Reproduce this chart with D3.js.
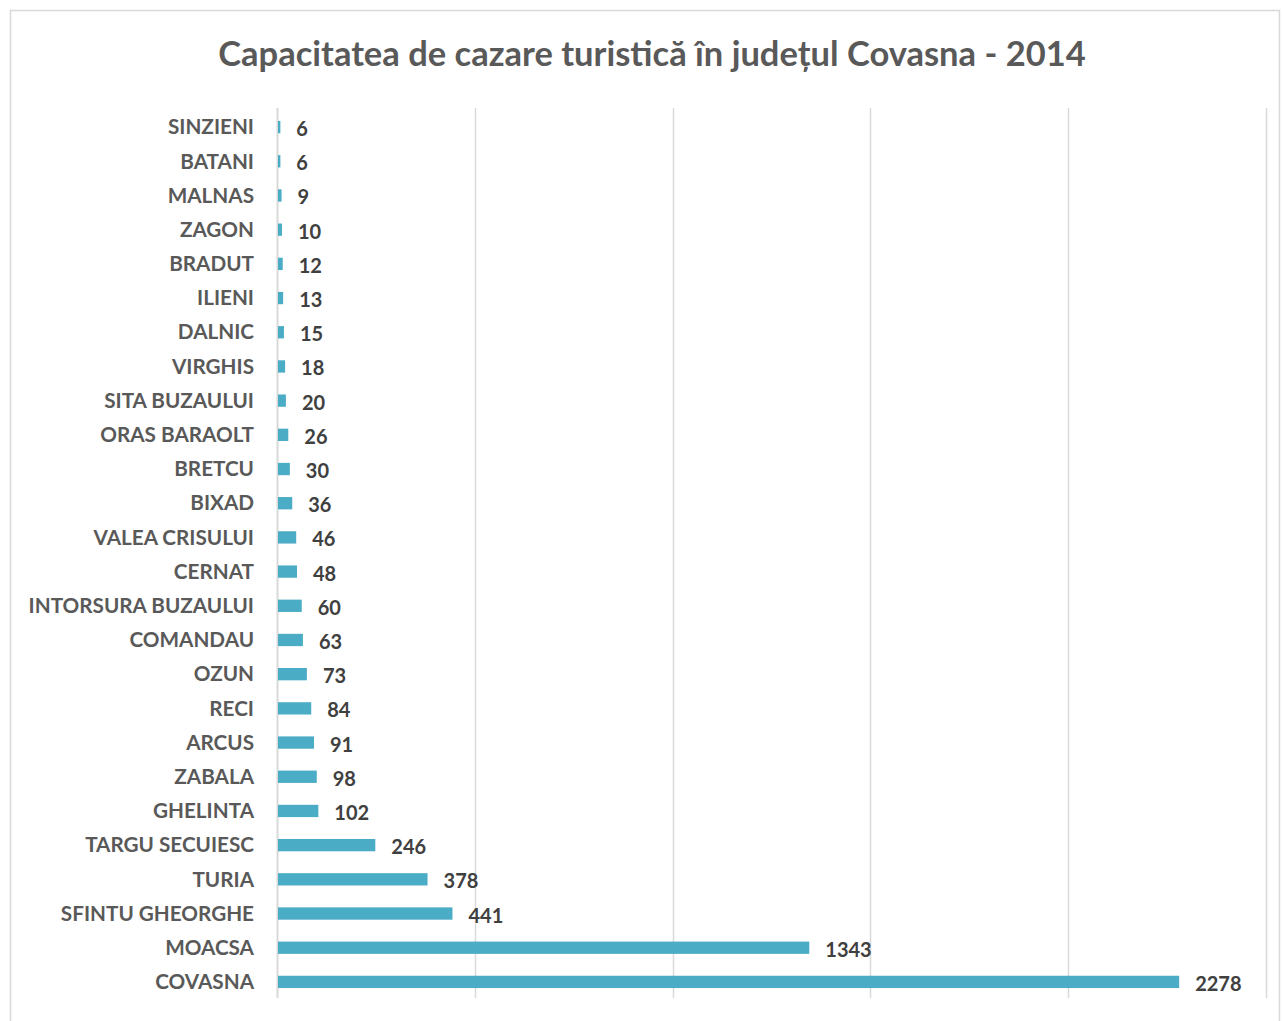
<!DOCTYPE html>
<html><head><meta charset="utf-8">
<script src="https://cdn.jsdelivr.net/npm/d3@7"></script>
<style>body{margin:0;background:#fff}svg{display:block}</style>
</head><body>
<svg id="c" width="1283" height="1021"></svg>
<script>
const title = "Capacitatea de cazare turistică în județul Covasna - 2014";
const categories = ["SINZIENI","BATANI","MALNAS","ZAGON","BRADUT","ILIENI","DALNIC","VIRGHIS","SITA BUZAULUI","ORAS BARAOLT","BRETCU","BIXAD","VALEA CRISULUI","CERNAT","INTORSURA BUZAULUI","COMANDAU","OZUN","RECI","ARCUS","ZABALA","GHELINTA","TARGU SECUIESC","TURIA","SFINTU GHEORGHE","MOACSA","COVASNA"];
const values = [6,6,9,10,12,13,15,18,20,26,30,36,46,48,60,63,73,84,91,98,102,246,378,441,1343,2278];
const xTicks = [0,500,1000,1500,2000,2500];

(function(){
const svg = d3.select("#c");
const font = "Lato, 'Open Sans', sans-serif";
svg.append("rect").attr("x",10.5).attr("y",10.5).attr("width",1269).attr("height",1030)
  .attr("fill","#fff").attr("stroke","#d9d9d9").attr("stroke-width",1.5);

svg.append("text").attr("x",652).attr("y",66).attr("text-anchor","middle")
  .attr("font-family",font).attr("font-weight",700).attr("font-size",34.5)
  .attr("fill","#595959").text(title);

const x = d3.scaleLinear().domain([0,2500]).range([277,1266]);
const y = d3.scaleBand().domain(categories).range([110,999]).paddingInner(0.64).paddingOuter(0.32);

const gTop = 108, gBottom = 998;
svg.append("g").selectAll("line").data(xTicks).join("line")
  .attr("x1",d=>Math.round(x(d))+0.5).attr("x2",d=>Math.round(x(d))+0.5)
  .attr("y1",gTop).attr("y2",gBottom)
  .attr("stroke","#d9d9d9").attr("stroke-width",d=>d===0?2:1.5);

svg.append("g").selectAll("rect").data(values).join("rect")
  .attr("x",x(0)+1).attr("y",(d,i)=>y(categories[i]))
  .attr("width",d=>x(d)-x(0)).attr("height",y.bandwidth())
  .attr("fill","#4bacc6");

svg.append("g").selectAll("text").data(categories).join("text")
  .attr("x",254).attr("y",d=>y(d)+y.bandwidth()/2)
  .attr("dy","0.35em").attr("text-anchor","end")
  .attr("font-family",font).attr("font-weight",700).attr("font-size",20.7)
  .attr("fill","#595959").text(d=>d);

svg.append("g").selectAll("text").data(values).join("text")
  .attr("x",d=>x(d)+17).attr("y",(d,i)=>y(categories[i])+y.bandwidth()/2+2)
  .attr("dy","0.35em")
  .attr("font-family",font).attr("font-weight",700).attr("font-size",20)
  .attr("fill","#404040").text(d=>d);
})();
</script>
</body></html>
